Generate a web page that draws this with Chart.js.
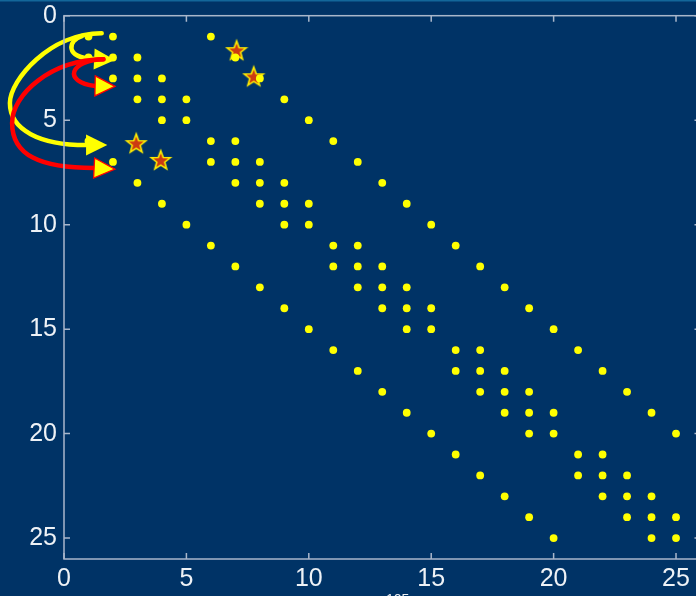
<!DOCTYPE html>
<html>
<head>
<meta charset="utf-8">
<script src="https://cdn.jsdelivr.net/npm/chart.js@4/dist/chart.umd.min.js"></script>
<style>
  html, body { margin: 0; padding: 0; background: #003366; overflow: hidden; width: 696px; height: 596px; }
  #wrap { position: relative; width: 702px; height: 612px; }
  canvas { display: block; }
</style>
</head>
<body>
<div id="wrap"><canvas id="spy" width="702" height="612"></canvas></div>
<script>
// Sparsity pattern of the 25x25 five-point Laplacian on a 5x5 grid.
// rowIndex[i] lists the row; columnsByRow[i] the columns holding a nonzero.
const rowIndex = [1, 2, 3, 4, 5, 6, 7, 8, 9, 10, 11, 12, 13, 14, 15, 16, 17, 18, 19, 20, 21, 22, 23, 24, 25];
const columnsByRow = [
  [1, 2, 6], [1, 2, 3, 7], [2, 3, 4, 8], [3, 4, 5, 9], [4, 5, 10],
  [1, 6, 7, 11], [2, 6, 7, 8, 12], [3, 7, 8, 9, 13], [4, 8, 9, 10, 14], [5, 9, 10, 15],
  [6, 11, 12, 16], [7, 11, 12, 13, 17], [8, 12, 13, 14, 18], [9, 13, 14, 15, 19], [10, 14, 15, 20],
  [11, 16, 17, 21], [12, 16, 17, 18, 22], [13, 17, 18, 19, 23], [14, 18, 19, 20, 24], [15, 19, 20, 25],
  [16, 21, 22], [17, 21, 22, 23], [18, 22, 23, 24], [19, 23, 24, 25], [20, 24, 25]
];
// Highlighted entries (stars)
const starCol = [7.05, 7.75, 2.95, 3.95];
const starRow = [1.65, 2.9, 6.1, 6.9];
// Axis ticks and limits
const xTicks = [0, 5, 10, 15, 20, 25];
const yTicks = [0, 5, 10, 15, 20, 25];
const axisMax = 26;

// Curved arrows in (column, row) units: a start point, cubic segments [c1, c2, end], and a tip
const arrows = [
  { line: '#ffff00', head: '#ffff00', edge: null, half: 10.5,
    start: [1.54, 0.84],
    curves: [[[-0.57, 0.83], [-2.21, 3.08], [-2.21, 4.18]], [[-2.21, 5.47], [-0.98, 6.19], [0.90, 6.19]]],
    tip: [1.77, 6.19] },
  { line: '#ffff00', head: '#ffff00', edge: null, half: 10.5,
    start: [0.74, 0.97],
    curves: [[[0.16, 1.16], [0.0, 2.03], [1.23, 2.07]]],
    tip: [2.08, 2.12] },
  { line: '#ff0000', head: '#ffff00', edge: '#ff0000', half: 10,
    start: [1.61, 2.09],
    curves: [[[0.25, 2.12], [-0.08, 3.17], [1.27, 3.36]]],
    tip: [2.08, 3.38] },
  { line: '#ff0000', head: '#ffff00', edge: '#ff0000', half: 10,
    start: [1.61, 2.09],
    curves: [[[-0.57, 2.12], [-2.12, 3.79], [-2.12, 5.13]], [[-2.12, 6.67], [-0.98, 7.29], [1.23, 7.29]]],
    tip: [2.08, 7.34] }
];

const nonzeros = [];
rowIndex.forEach((r, i) => columnsByRow[i].forEach(c => nonzeros.push({ x: c, y: r })));
const nzCount = nonzeros.length;
const stars = starCol.map((c, i) => ({ x: c, y: starRow[i] }));

const AXIS = '#a9b7cb';
const TEXT = '#eef2f6';

function makeStar(R, ratio, fill, edge) {
  const size = Math.ceil(2 * R + 4);
  const cv = document.createElement('canvas');
  cv.width = size; cv.height = size;
  const g = cv.getContext('2d');
  g.translate(size / 2, size / 2 + R * 0.09);
  g.beginPath();
  for (let k = 0; k < 10; k++) {
    const rad = k % 2 === 0 ? R : R * ratio;
    const a = -Math.PI / 2 + k * Math.PI / 5;
    const px = rad * Math.cos(a), py = rad * Math.sin(a);
    if (k === 0) g.moveTo(px, py); else g.lineTo(px, py);
  }
  g.closePath();
  g.fillStyle = fill; g.fill();
  g.lineWidth = 1.6; g.strokeStyle = edge; g.lineJoin = 'miter'; g.stroke();
  return cv;
}
const starImage = makeStar(10, 0.42, '#cc3a12', '#ffee00');

const background = {
  id: 'background',
  beforeDraw(chart) {
    const { ctx, width, height } = chart;
    ctx.save();
    ctx.fillStyle = '#003366';
    ctx.fillRect(0, 0, width, height);
    ctx.fillStyle = '#13679a';
    ctx.fillRect(0, 0, width, 1.5);
    ctx.restore();
  }
};

const frame = {
  id: 'frame',
  afterDraw(chart) {
    const { ctx, chartArea: a, scales: { x, y } } = chart;
    const len = 6;
    ctx.save();
    ctx.strokeStyle = AXIS;
    ctx.lineWidth = 1.5;
    ctx.strokeRect(a.left, a.top, a.right - a.left, a.bottom - a.top);
    ctx.beginPath();
    xTicks.forEach(v => {
      const px = x.getPixelForValue(v);
      ctx.moveTo(px, a.bottom); ctx.lineTo(px, a.bottom - len);
      ctx.moveTo(px, a.top); ctx.lineTo(px, a.top + len);
    });
    yTicks.forEach(v => {
      const py = y.getPixelForValue(v);
      ctx.moveTo(a.left, py); ctx.lineTo(a.left + len, py);
      ctx.moveTo(a.right, py); ctx.lineTo(a.right - len, py);
    });
    ctx.stroke();
    ctx.restore();
  }
};

const curvedArrows = {
  id: 'curvedArrows',
  afterDatasetsDraw(chart) {
    const { ctx, scales: { x, y } } = chart;
    const P = p => [x.getPixelForValue(p[0]), y.getPixelForValue(p[1])];
    ctx.save();
    arrows.forEach(ar => {
      const s = P(ar.start);
      ctx.beginPath();
      ctx.moveTo(s[0], s[1]);
      let end = s;
      ar.curves.forEach(seg => {
        const c1 = P(seg[0]), c2 = P(seg[1]), e = P(seg[2]);
        ctx.bezierCurveTo(c1[0], c1[1], c2[0], c2[1], e[0], e[1]);
        end = e;
      });
      ctx.strokeStyle = ar.line;
      ctx.lineWidth = 4.5;
      ctx.lineCap = 'round';
      ctx.lineJoin = 'round';
      ctx.stroke();

      const t = P(ar.tip);
      const dx = t[0] - end[0], dy = t[1] - end[1];
      const L = Math.hypot(dx, dy) || 1;
      const nx = -dy / L, ny = dx / L;
      ctx.beginPath();
      ctx.moveTo(t[0], t[1]);
      ctx.lineTo(end[0] + nx * ar.half, end[1] + ny * ar.half);
      ctx.lineTo(end[0] - nx * ar.half, end[1] - ny * ar.half);
      ctx.closePath();
      ctx.fillStyle = ar.head;
      ctx.fill();
      if (ar.edge) {
        ctx.strokeStyle = ar.edge;
        ctx.lineWidth = 1.3;
        ctx.lineJoin = 'miter';
        ctx.stroke();
      }
    });
    ctx.restore();
  }
};

const tickFont = { family: "'Liberation Sans', Arial, sans-serif", size: 25 };

// keep the plot box exactly where the layout padding and fixed axis sizes put it
function noScalePadding(s) {
  s.paddingTop = 0; s.paddingBottom = 0; s.paddingLeft = 0; s.paddingRight = 0;
}

new Chart(document.getElementById('spy'), {
  type: 'scatter',
  data: {
    datasets: [
      { label: 'nonzeros', data: nonzeros, pointRadius: 3.9, pointHoverRadius: 3.9,
        backgroundColor: '#ffff00', borderWidth: 0 },
      { label: 'highlighted', data: stars, pointStyle: starImage, pointRadius: 10, pointHoverRadius: 10 }
    ]
  },
  options: {
    responsive: false,
    animation: false,
    devicePixelRatio: 1,
    events: [],
    layout: { autoPadding: false, padding: { top: 15.7, right: 1.5, left: 0, bottom: 0 } },
    plugins: { legend: { display: false }, tooltip: { enabled: false } },
    scales: {
      x: {
        type: 'linear', min: 0, max: axisMax,
        afterBuildTicks: s => { s.ticks = xTicks.map(v => ({ value: v })); },
        afterFit: s => { s.height = 53; noScalePadding(s); },
        grid: { display: false, drawTicks: false },
        border: { display: false },
        ticks: { color: TEXT, font: tickFont, padding: 5, maxRotation: 0, autoSkip: false },
        title: { display: true, text: 'nz = ' + nzCount, color: TEXT,
                 font: { family: "'Liberation Sans', Arial, sans-serif", size: 14 },
                 padding: { top: 0, bottom: 3 } }
      },
      y: {
        type: 'linear', reverse: true, min: 0, max: axisMax,
        afterBuildTicks: s => { s.ticks = yTicks.map(v => ({ value: v })); },
        afterFit: s => { s.width = 64; noScalePadding(s); },
        grid: { display: false, drawTicks: false },
        border: { display: false },
        ticks: { color: TEXT, font: tickFont, padding: 7, autoSkip: false }
      }
    }
  },
  plugins: [background, frame, curvedArrows]
});
</script>
</body>
</html>
